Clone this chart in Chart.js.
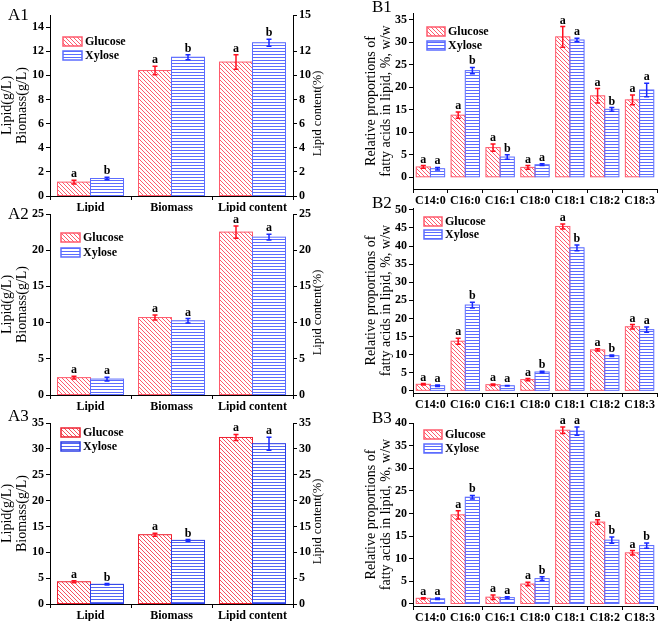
<!DOCTYPE html>
<html>
<head>
<meta charset="utf-8">
<script src="https://cdn.jsdelivr.net/npm/chart.js@4.4.0/dist/chart.umd.min.js"></script>
<style>
  body { margin: 0; background: #fff; width: 661px; height: 621px; position: relative; overflow: hidden; }
  canvas { position: absolute; }
</style>
</head>
<body>
<canvas id="a1" width="330" height="212" style="left:0;top:0"></canvas>
<canvas id="a2" width="330" height="212" style="left:0;top:200px"></canvas>
<canvas id="a3" width="330" height="217" style="left:0;top:404px"></canvas>
<canvas id="b1" width="331" height="207" style="left:330px;top:0"></canvas>
<canvas id="b2" width="331" height="220" style="left:330px;top:190px"></canvas>
<canvas id="b3" width="331" height="217" style="left:330px;top:404px"></canvas>
<script>
// categories
const cultureItems = ['Lipid', 'Biomass', 'Lipid content'];
const fattyAcids = ['C14:0', 'C16:0', 'C16:1', 'C18:0', 'C18:1', 'C18:2', 'C18:3'];

// A1
const a1Glucose = [1.15, 10.4, 11.1];
const a1GlucoseErr = [0.15, 0.35, 0.6];
const a1Xylose = [1.45, 11.5, 12.7];
const a1XyloseErr = [0.1, 0.2, 0.3];
const a1GlucoseSig = ['a', 'a', 'a'];
const a1XyloseSig = ['b', 'b', 'b'];

// A2
const a2Glucose = [2.4, 10.7, 22.5];
const a2GlucoseErr = [0.2, 0.35, 0.85];
const a2Xylose = [2.2, 10.25, 21.8];
const a2XyloseErr = [0.25, 0.3, 0.4];
const a2GlucoseSig = ['a', 'a', 'a'];
const a2XyloseSig = ['a', 'a', 'a'];

// A3
const a3Glucose = [4.3, 13.4, 32.2];
const a3GlucoseErr = [0.2, 0.3, 0.6];
const a3Xylose = [3.8, 12.3, 31.0];
const a3XyloseErr = [0.15, 0.15, 1.25];
const a3GlucoseSig = ['a', 'a', 'a'];
const a3XyloseSig = ['b', 'b', 'a'];

// B1
const b1Glucose = [2.3, 13.8, 6.6, 2.2, 31.2, 18.1, 17.2];
const b1GlucoseErr = [0.3, 0.7, 0.8, 0.4, 2.3, 1.6, 1.1];
const b1Xylose = [1.9, 23.7, 4.5, 2.8, 30.5, 15.1, 19.4];
const b1XyloseErr = [0.3, 0.7, 0.5, 0.2, 0.4, 0.4, 1.5];
const b1GlucoseSig = ['a', 'a', 'a', 'a', 'a', 'a', 'a'];
const b1XyloseSig = ['a', 'b', 'b', 'a', 'a', 'b', 'a'];

// B2
const b2Glucose = [1.8, 13.7, 1.7, 3.1, 45.4, 11.3, 17.7];
const b2GlucoseErr = [0.2, 0.8, 0.2, 0.3, 0.7, 0.3, 0.6];
const b2Xylose = [1.4, 23.7, 1.4, 5.2, 39.5, 9.7, 16.9];
const b2XyloseErr = [0.2, 0.8, 0.1, 0.2, 0.8, 0.2, 0.7];
const b2GlucoseSig = ['a', 'a', 'a', 'a', 'a', 'a', 'a'];
const b2XyloseSig = ['a', 'b', 'a', 'b', 'b', 'b', 'a'];

// B3
const b3Glucose = [1.25, 19.7, 1.5, 4.4, 38.4, 18.1, 11.3];
const b3GlucoseErr = [0.15, 0.9, 0.5, 0.4, 0.7, 0.5, 0.5];
const b3Xylose = [1.15, 23.6, 1.4, 5.6, 38.2, 14.1, 12.9];
const b3XyloseErr = [0.15, 0.4, 0.2, 0.4, 0.9, 0.7, 0.6];
const b3GlucoseSig = ['a', 'a', 'a', 'a', 'a', 'a', 'a'];
const b3XyloseSig = ['a', 'b', 'a', 'b', 'a', 'b', 'b'];

const FONT = '"Liberation Serif", "Times New Roman", serif';

// border colour, hatch colour, border width
const soft = { g: '#ff5a6c', gh: '#ff5a6c', x: '#5c6cff', xh: '#5c6cff', bw: 1 };
const strong = { g: '#ee2030', gh: '#f8505e', x: '#2c3ee6', xh: '#5466f4', bw: 2 };

// fill a rectangle with diagonal (glucose) or horizontal (xylose) hatching,
// phase tied to page coordinates so every bar looks the same
function hatchRect(chart, kind, color, x, y, w, h) {
    const ctx = chart.ctx;
    const ox = chart.canvas.offsetLeft, oy = chart.canvas.offsetTop;
    ctx.save();
    ctx.beginPath();
    ctx.rect(x, y, w, h);
    ctx.clip();
    ctx.strokeStyle = color;
    ctx.lineWidth = 1;
    ctx.beginPath();
    if (kind === 0) {
        const ys = Math.floor(y) - 2, H = h + 6;
        const shift = ((oy - ox) % 4 + 4) % 4;
        const dMin = Math.floor((x - ys - H) / 4) * 4 + shift;
        for (let d = dMin; d < x + w - ys + 4; d += 4) {
            ctx.moveTo(ys + d + 0.5, ys + 0.5);
            ctx.lineTo(ys + d + H + 0.5, ys + H + 0.5);
        }
    } else {
        const start = Math.floor(y / 3) * 3;
        for (let k = start; k < y + h; k += 3) {
            ctx.moveTo(x, k + 0.5);
            ctx.lineTo(x + w, k + 0.5);
        }
    }
    ctx.stroke();
    ctx.restore();
}

const extras = {
    id: 'extras',
    afterDatasetsDraw(chart, args, o) {
        const ctx = chart.ctx;
        const y = chart.scales.y;
        const errCol = ['#ff1020', '#1a2aff'];
        ctx.save();
        chart.data.datasets.forEach((ds, di) => {
            chart.getDatasetMeta(di).data.forEach((bar, i) => {
                const left = bar.x - bar.width / 2;
                const top = Math.min(bar.y, bar.base);
                const hgt = Math.abs(bar.base - bar.y);
                hatchRect(chart, di, o.hatch[di], left, top, bar.width, hgt);
                ctx.strokeStyle = ds.borderColor;
                ctx.lineWidth = ds.borderWidth;
                const inset = ds.borderWidth / 2;
                ctx.strokeRect(left + inset, top + inset, bar.width - 2 * inset, hgt - 2 * inset);
            });
        });
        chart.data.datasets.forEach((ds, di) => {
            chart.getDatasetMeta(di).data.forEach((bar, i) => {
                const v = ds.data[i], e = o.errors[di][i];
                const yt = y.getPixelForValue(v + e), yb = y.getPixelForValue(v - e);
                ctx.strokeStyle = errCol[di];
                ctx.lineWidth = 1.5;
                ctx.beginPath();
                ctx.moveTo(bar.x, yt); ctx.lineTo(bar.x, yb);
                ctx.moveTo(bar.x - 2.5, yt); ctx.lineTo(bar.x + 2.5, yt);
                ctx.moveTo(bar.x - 2.5, yb); ctx.lineTo(bar.x + 2.5, yb);
                ctx.stroke();
                ctx.fillStyle = '#000';
                ctx.font = 'bold 12px ' + FONT;
                ctx.textAlign = 'center';
                ctx.textBaseline = 'alphabetic';
                ctx.fillText(o.sig[di][i], bar.x, yt - 3);
            });
        });
        // legend
        chart.data.datasets.forEach((ds, di) => {
            const bx = o.legend[0], by = o.legend[1] + di * o.legend[2], bw = o.legend[3];
            ctx.fillStyle = '#fff';
            ctx.fillRect(bx, by, bw, 9);
            hatchRect(chart, di, o.hatch[di], bx, by, bw, 9);
            ctx.strokeStyle = ds.borderColor;
            ctx.lineWidth = ds.borderWidth;
            ctx.strokeRect(bx, by, bw, 9);
            ctx.fillStyle = '#000';
            ctx.font = 'bold 12px ' + FONT;
            ctx.textAlign = 'left';
            ctx.textBaseline = 'middle';
            ctx.fillText(ds.label, bx + bw + 3, by + 5);
        });
        // panel label
        ctx.font = '17px ' + FONT;
        ctx.textAlign = 'left';
        ctx.textBaseline = 'middle';
        ctx.fillText(o.panel[0], o.panel[1], o.panel[2]);
        // right axis title, reads bottom to top
        if (o.rightTitle) {
            const ca = chart.chartArea;
            ctx.translate(chart.width - 12, (ca.top + ca.bottom) / 2 + 8);
            ctx.rotate(-Math.PI / 2);
            ctx.font = '12.5px ' + FONT;
            ctx.textAlign = 'center';
            ctx.fillText(o.rightTitle, 0, 0);
        }
        ctx.restore();
    }
};

function axisStyle() {
    return {
        grid: { drawOnChartArea: false, drawTicks: true, tickLength: 4, color: '#000' },
        border: { color: '#000', width: 1 },
        ticks: { color: '#000', font: { family: FONT, size: 12, weight: 'bold' }, padding: 2 }
    };
}

function buildChart(id, p) {
    const pal = p.pal;
    const x = axisStyle();
    x.ticks.padding = 1;
    x.ticks.maxRotation = 0;
    x.ticks.minRotation = 0;
    x.ticks.autoSkip = false;
    x.afterFit = s => { s.height = p.xh; };
    const y = axisStyle();
    Object.assign(y, { min: p.min, max: p.max });
    y.ticks.stepSize = p.step;
    y.ticks.includeBounds = false;
    y.afterFit = s => { s.width = p.yw; };
    y.title = { display: true, text: p.yTitle, color: '#000',
        font: { family: FONT, size: 14, lineHeight: 1.05 }, padding: { top: p.titlePad, bottom: 0 } };
    const scales = { x: x, y: y };
    if (p.rightAxis) {
        const y1 = axisStyle();
        Object.assign(y1, { position: 'right', min: p.min, max: p.max });
        y1.ticks.stepSize = p.step;
        y1.afterFit = s => { s.width = 37; };
        scales.y1 = y1;
    }
    return new Chart(document.getElementById(id), {
        type: 'bar',
        data: {
            labels: p.labels,
            datasets: [
                { label: 'Glucose', data: p.glucose, backgroundColor: '#fff',
                  borderColor: pal.g, borderWidth: 0, borderSkipped: false },
                { label: 'Xylose', data: p.xylose, backgroundColor: '#fff',
                  borderColor: pal.x, borderWidth: 0, borderSkipped: false }
            ]
        },
        options: {
            responsive: false,
            animation: false,
            layout: { padding: { top: p.top, right: p.right, left: 0, bottom: 0 } },
            datasets: { bar: { barPercentage: 1, categoryPercentage: 0.815 } },
            plugins: {
                legend: { display: false },
                tooltip: { enabled: false },
                extras: {
                    errors: [p.gErr, p.xErr],
                    sig: [p.gSig, p.xSig],
                    hatch: [pal.gh, pal.xh],
                    legend: p.legend,
                    panel: p.panel,
                    rightTitle: p.rightAxis ? 'Lipid content(%)' : null
                }
            },
            scales: scales
        },
        plugins: [extras]
    }).data.datasets.forEach(ds => { ds.borderWidth = pal.bw; });
}

const aTitle = ['Lipid(g/L)', 'Biomass(g/L)'];
const bTitle = ['Relative proportions of', 'fatty acids in lipid, %, w/w'];

buildChart('a1', { labels: cultureItems, glucose: a1Glucose, xylose: a1Xylose, gErr: a1GlucoseErr, xErr: a1XyloseErr,
    gSig: a1GlucoseSig, xSig: a1XyloseSig, pal: soft, min: 0, max: 15, step: 2, top: 15, right: 0, xh: 16, yw: 50,
    yTitle: aTitle, titlePad: 0, rightAxis: true, legend: [63, 37, 14, 19], panel: ['A1', 8, 16] });

buildChart('a2', { labels: cultureItems, glucose: a2Glucose, xylose: a2Xylose, gErr: a2GlucoseErr, xErr: a2XyloseErr,
    gSig: a2GlucoseSig, xSig: a2XyloseSig, pal: soft, min: 0, max: 25, step: 5, top: 14, right: 0, xh: 17, yw: 50,
    yTitle: aTitle, titlePad: 0, rightAxis: true, legend: [61, 33, 15, 19], panel: ['A2', 8, 15] });

buildChart('a3', { labels: cultureItems, glucose: a3Glucose, xylose: a3Xylose, gErr: a3GlucoseErr, xErr: a3XyloseErr,
    gSig: a3GlucoseSig, xSig: a3XyloseSig, pal: strong, min: 0, max: 35, step: 5, top: 19, right: 0, xh: 17, yw: 50,
    yTitle: aTitle, titlePad: 0, rightAxis: true, legend: [61, 24, 14, 19], panel: ['A3', 8, 13] });

buildChart('b1', { labels: fattyAcids, glucose: b1Glucose, xylose: b1Xylose, gErr: b1GlucoseErr, xErr: b1XyloseErr,
    gSig: b1GlucoseSig, xSig: b1XyloseSig, pal: soft, min: -2.6, max: 36.5, step: 5, top: 13, right: 4, xh: 18, yw: 83,
    yTitle: bTitle, titlePad: 34, rightAxis: false, legend: [97, 27, 14, 18], panel: ['B1', 42, 8] });

buildChart('b2', { labels: fattyAcids, glucose: b2Glucose, xylose: b2Xylose, gErr: b2GlucoseErr, xErr: b2XyloseErr,
    gSig: b2GlucoseSig, xSig: b2XyloseSig, pal: soft, min: -0.6, max: 50.5, step: 5, top: 18, right: 4, xh: 17, yw: 83,
    yTitle: bTitle, titlePad: 34, rightAxis: false, legend: [94, 27, 13, 18], panel: ['B2', 42, 14] });

buildChart('b3', { labels: fattyAcids, glucose: b3Glucose, xylose: b3Xylose, gErr: b3GlucoseErr, xErr: b3XyloseErr,
    gSig: b3GlucoseSig, xSig: b3XyloseSig, pal: soft, min: -0.45, max: 40, step: 5, top: 19, right: 4, xh: 15, yw: 83,
    yTitle: bTitle, titlePad: 34, rightAxis: false, legend: [94, 26, 14, 18], panel: ['B3', 42, 15] });
</script>
</body>
</html>
